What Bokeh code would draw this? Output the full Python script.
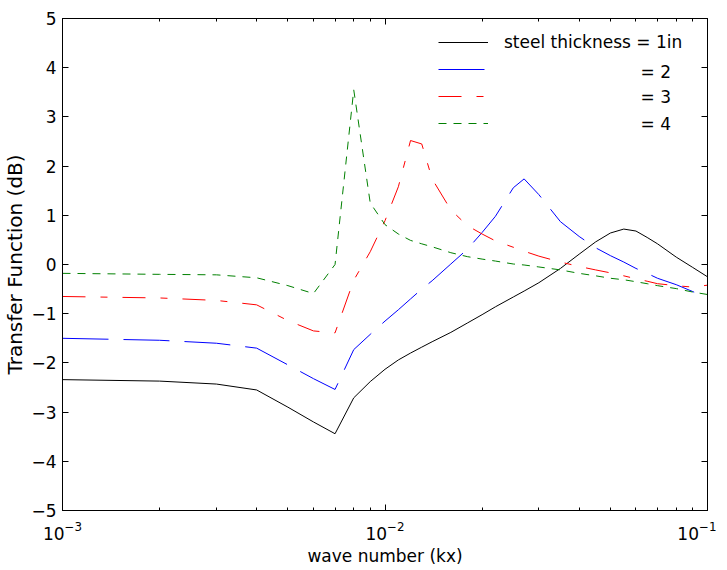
from bokeh.plotting import figure
from bokeh.models import (Legend, LegendItem, FixedTicker, LogAxis, LinearAxis, Label,
                          CustomJSTickFormatter, Range1d, LogTickFormatter)
from bokeh.embed import file_html
from bokeh.resources import INLINE

# ---- data ----
kx = [0.001, 0.002, 0.003, 0.004, 0.005, 0.006, 0.007, 0.008, 0.009, 0.010,
      0.011, 0.012, 0.013, 0.014, 0.016, 0.018, 0.020, 0.022, 0.025, 0.027,
      0.030, 0.035, 0.040, 0.045, 0.050, 0.055, 0.060, 0.065, 0.070, 0.080,
      0.090, 0.100]

tf_1in = [-2.34, -2.37, -2.43, -2.55, -2.90, -3.20, -3.44, -2.71, -2.38, -2.13,
          -1.94, -1.80, -1.68, -1.57, -1.38, -1.19, -1.02, -0.86, -0.66, -0.54,
          -0.37, -0.08, 0.21, 0.46, 0.64, 0.72, 0.68, 0.55, 0.42, 0.15,
          -0.06, -0.25]

tf_2in = [-1.50, -1.54, -1.60, -1.70, -2.04, -2.32, -2.54, -1.73, -1.42, -1.15,
          -0.92, -0.70, -0.50, -0.33, 0.01, 0.31, 0.65, 0.98, 1.56, 1.74,
          1.42, 0.87, 0.57, 0.34, 0.18, 0.05, -0.08, -0.18, -0.28, -0.41,
          -0.55, -0.68]

tf_3in = [-0.65, -0.68, -0.73, -0.82, -1.14, -1.35, -1.39, -0.32, 0.26, 0.89,
          1.58, 2.52, 2.45, 1.74, 1.11, 0.79, 0.62, 0.48, 0.35, 0.27,
          0.17, 0.05, -0.04, -0.11, -0.17, -0.23, -0.29, -0.34, -0.39, -0.43,
          -0.46, -0.42]

tf_4in = [-0.18, -0.20, -0.21, -0.27, -0.43, -0.59, 0.00, 3.55, 1.25, 0.81,
          0.62, 0.49, 0.42, 0.36, 0.24, 0.16, 0.11, 0.07, 0.01, -0.01,
          -0.05, -0.11, -0.18, -0.23, -0.28, -0.31, -0.35, -0.39, -0.43, -0.49,
          -0.56, -0.61]

legend_labels = ["steel thickness = 1in", "= 2", "= 3", "= 4"]
x_major = [0.001, 0.01, 0.1]
x_minor = [0.002, 0.003, 0.004, 0.005, 0.006, 0.007, 0.008, 0.009,
           0.02, 0.03, 0.04, 0.05, 0.06, 0.07, 0.08, 0.09]
y_ticks = [-5, -4, -3, -2, -1, 0, 1, 2, 3, 4, 5]

FONT = "DejaVu Sans"
FS = "17px"

p = figure(x_axis_type="log", x_range=Range1d(0.001, 0.1), y_range=Range1d(-5, 5),
           frame_width=645, frame_height=492, output_backend="svg",
           toolbar_location=None, min_border_left=57, min_border_top=18,
           min_border_right=9, min_border_bottom=50)
p.background_fill_color = "white"
p.border_fill_color = "white"
p.outline_line_color = "black"
p.xgrid.visible = False
p.ygrid.visible = False

styles = [
    dict(color="#000000", dash="solid"),
    dict(color="#0000ff", dash="46 15"),
    dict(color="#ff0000", dash="23 15 7 15"),
    dict(color="#008000", dash="8 7"),
]
renderers = []
for ys, st in zip([tf_1in, tf_2in, tf_3in, tf_4in], styles):
    r = p.line(kx, ys, line_color=st["color"], line_width=1, line_dash=st["dash"])
    renderers.append(r)

def style_axis(ax):
    ax.axis_line_color = "black"
    ax.major_tick_in = 6
    ax.major_tick_out = 0
    ax.minor_tick_in = 3
    ax.minor_tick_out = 0
    ax.major_tick_line_color = "black"
    ax.minor_tick_line_color = "black"
    ax.major_label_text_font = FONT
    ax.major_label_text_font_size = FS
    ax.major_label_text_color = "black"
    ax.axis_label_text_color = "black"

xa = p.xaxis[0]
xa.ticker = FixedTicker(ticks=x_major, minor_ticks=x_minor)
xa.formatter = LogTickFormatter()
style_axis(xa)
xa.major_label_standoff = 10
xa.axis_label = "wave number (kx)"
xa.axis_label_text_font = FONT
xa.axis_label_text_font_size = FS
xa.axis_label_text_font_style = "normal"
xa.axis_label_standoff = 3

ya = p.yaxis[0]
ya.ticker = FixedTicker(ticks=y_ticks, minor_ticks=[])
style_axis(ya)
ya.major_label_standoff = 6
ya.axis_label = "Transfer Function (dB)"
ya.axis_label_text_font = FONT
ya.axis_label_text_font_size = "20px"
ya.axis_label_text_font_style = "normal"
ya.axis_label_standoff = 1

empty = CustomJSTickFormatter(code="return ''")
top = LogAxis(ticker=FixedTicker(ticks=x_major, minor_ticks=x_minor), formatter=empty)
style_axis(top)
top.major_label_standoff = 0
top.major_label_text_font_size = "0px"
p.add_layout(top, "above")

right = LinearAxis(ticker=FixedTicker(ticks=y_ticks, minor_ticks=[]), formatter=empty)
style_axis(right)
right.major_label_standoff = 0
right.major_label_text_font_size = "0px"
p.add_layout(right, "right")

# legend (glyphs) + aligned labels
items = [LegendItem(label=legend_labels[0], renderers=[renderers[0]])]
for r in renderers[1:]:
    items.append(LegendItem(label=" ", renderers=[r]))
leg = Legend(items=items, location=(376, 377), padding=0, margin=0, spacing=7,
             glyph_width=50, glyph_height=20, label_height=20, label_standoff=16,
             border_line_color=None, background_fill_alpha=0,
             label_text_font=FONT, label_text_font_size=FS,
             label_text_color="black")
p.add_layout(leg, "center")

# "= n" labels aligned under "= 1in"
row_y = [3.92, 3.40, 2.85]
for lab, yy in zip(legend_labels[1:], row_y):
    p.add_layout(Label(x=0.0620, y=yy, text=lab, text_font=FONT, text_font_size=FS,
                       text_baseline="middle", text_color="black"))

open("out.html", "w").write(file_html(p, INLINE))
